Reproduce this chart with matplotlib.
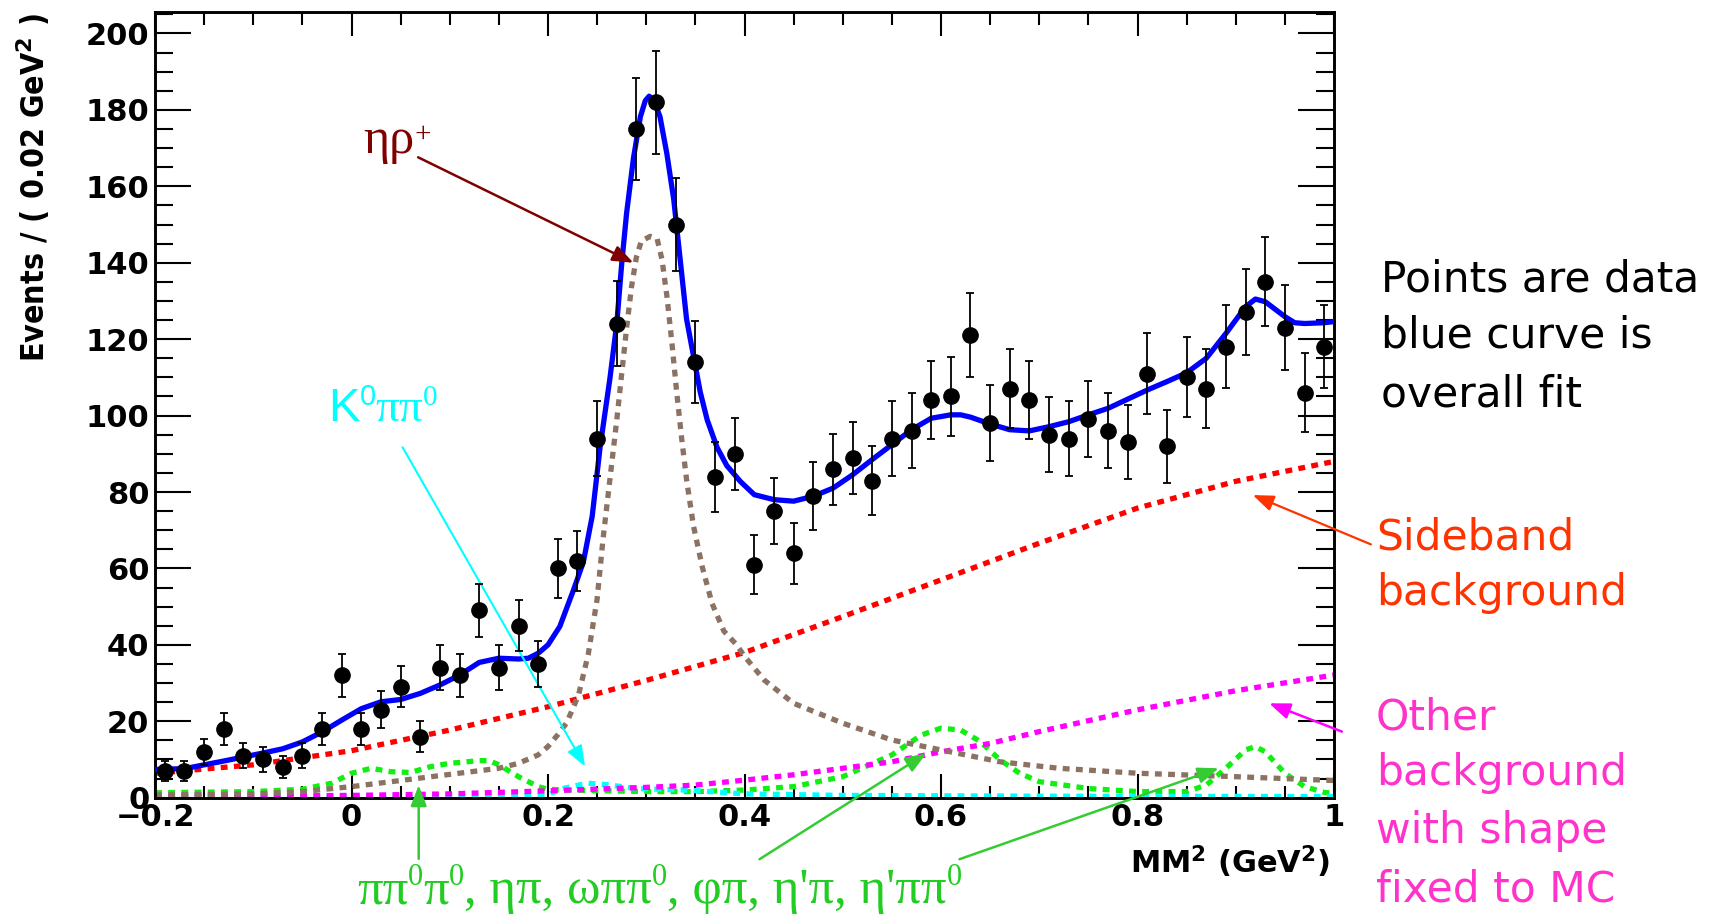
import numpy as np
import matplotlib
matplotlib.use("Agg")
import matplotlib.pyplot as plt
from matplotlib.ticker import FixedLocator, FixedFormatter, MultipleLocator

# ---- measured spectrum: events per 0.02 GeV^2 bin ----
bin_centers = [-0.19, -0.17, -0.15, -0.13, -0.11, -0.09, -0.07, -0.05, -0.03, -0.01,
               0.01, 0.03, 0.05, 0.07, 0.09, 0.11, 0.13, 0.15, 0.17, 0.19,
               0.21, 0.23, 0.25, 0.27, 0.29, 0.31, 0.33, 0.35, 0.37, 0.39,
               0.41, 0.43, 0.45, 0.47, 0.49, 0.51, 0.53, 0.55, 0.57, 0.59,
               0.61, 0.63, 0.65, 0.67, 0.69, 0.71, 0.73, 0.75, 0.77, 0.79,
               0.81, 0.83, 0.85, 0.87, 0.89, 0.91, 0.93, 0.95, 0.97, 0.99]
counts = [7, 7, 12, 18, 11, 10, 8, 11, 18, 32,
          18, 23, 29, 16, 34, 32, 49, 34, 45, 35,
          60, 62, 94, 124, 175, 182, 150, 114, 84, 90,
          61, 75, 64, 79, 86, 89, 83, 94, 96, 104,
          105, 121, 98, 107, 104, 95, 94, 99, 96, 93,
          111, 92, 110, 107, 118, 127, 135, 123, 106, 118]

# ---- fit curves sampled along MM^2 ----
fit_x = [-0.20, -0.17, -0.13, -0.09, -0.07, -0.05, -0.03, -0.01,
         0.01, 0.03, 0.05, 0.07, 0.09, 0.11, 0.13, 0.15, 0.17, 0.18, 0.19, 0.20,
         0.212, 0.226, 0.236, 0.245, 0.253, 0.263, 0.270, 0.275, 0.280, 0.287,
         0.294, 0.299, 0.303, 0.308, 0.314, 0.321, 0.328, 0.335, 0.341, 0.348,
         0.355, 0.362, 0.372, 0.382, 0.396,
         0.41, 0.43, 0.45, 0.47, 0.49, 0.51, 0.53, 0.55, 0.57, 0.59,
         0.61, 0.62, 0.63, 0.65, 0.67, 0.69, 0.71, 0.73, 0.75, 0.77, 0.79,
         0.81, 0.83, 0.85, 0.87, 0.89, 0.91, 0.92, 0.93, 0.95, 0.96, 0.97, 0.99, 1.00]
fit_y = [7.4, 7.6, 9.6, 11.7, 12.8, 14.6, 17.2, 20.3,
         23.3, 25.1, 25.7, 27.3, 29.5, 32.1, 35.4, 36.5, 36.3, 36.5, 37.8, 40.0,
         44.8, 54.4, 61.7, 73.7, 91.7, 109.7, 124.1, 139.7, 153.0, 167.4,
         178.2, 182.4, 183.6, 182.4, 178.2, 168.5, 156.5, 139.7, 125.3, 115.7,
         106.1, 98.9, 91.7, 86.9, 82.7,
         79.3, 78.0, 77.6, 78.9, 81.0, 84.5, 88.5, 92.4, 96.3, 99.3,
         100.2, 100.2, 99.6, 97.8, 96.3, 96.0, 97.1, 98.4, 100.2, 101.9, 104.3,
         106.7, 108.9, 111.2, 115.0, 121.5, 128.5, 130.5, 129.8, 125.9, 124.3, 124.1, 124.3, 124.6]

etarho_x = [-0.20, -0.10, -0.05, 0.00, 0.05, 0.10, 0.15, 0.17, 0.19, 0.20,
            0.21, 0.219, 0.231, 0.241, 0.250, 0.256, 0.263, 0.270, 0.275, 0.280,
            0.285, 0.290, 0.295, 0.304, 0.311, 0.316, 0.321, 0.326, 0.331, 0.336,
            0.341, 0.348, 0.357, 0.367, 0.379, 0.392, 0.40, 0.42, 0.45, 0.50,
            0.55, 0.60, 0.66, 0.72, 0.80, 0.90, 1.00]
etarho_y = [0.7, 1.0, 1.6, 2.9, 4.5, 6.1, 7.7, 9.0, 11.2, 13.4,
            16.5, 19.6, 26.8, 37.6, 52.0, 67.7, 83.3, 98.9, 110.9, 122.9,
            133.7, 141.5, 145.7, 146.9, 146.3, 140.9, 131.3, 119.3, 106.1, 94.1,
            83.3, 71.2, 60.4, 50.8, 43.6, 40.0, 37.0, 30.8, 24.7, 19.5,
            15.1, 12.5, 9.4, 7.7, 6.4, 5.5, 4.5]

sideband_x = [-0.2, -0.1, 0.0, 0.1, 0.2, 0.3, 0.4, 0.5, 0.6, 0.7, 0.8, 0.9, 1.0]
sideband_y = [6.4, 8.6, 12.3, 17.7, 23.8, 30.7, 38.0, 47.4, 57.0, 66.6, 75.8, 82.8, 88.0]

other_x = [-0.2, 0.0, 0.1, 0.2, 0.3, 0.35, 0.4, 0.45, 0.5, 0.55, 0.6, 0.65, 0.7, 0.8, 0.9, 1.0]
other_y = [0.3, 0.6, 1.0, 1.8, 2.7, 3.3, 4.6, 6.0, 7.7, 9.4, 12.0, 14.2, 17.3, 23.0, 28.0, 32.1]

k0pipi_x = [-0.2, 0.15, 0.20, 0.215, 0.24, 0.26, 0.29, 0.34, 0.40, 0.50, 0.70, 1.0]
k0pipi_y = [0.2, 0.2, 0.8, 2.4, 3.8, 3.4, 2.4, 2.0, 1.0, 0.6, 0.4, 0.3]

peaking_x = [-0.2, -0.1, -0.05, -0.02, 0.0, 0.02, 0.04, 0.06, 0.08, 0.10,
             0.13, 0.14, 0.15, 0.17, 0.19, 0.20, 0.22, 0.30, 0.35, 0.40,
             0.45, 0.50, 0.55, 0.58, 0.60, 0.62, 0.64, 0.66, 0.68, 0.70,
             0.75, 0.80, 0.85, 0.87, 0.89, 0.91, 0.92, 0.93, 0.95, 0.97,
             0.99, 1.0]
peaking_y = [1.3, 1.6, 2.2, 3.8, 6.4, 7.7, 6.8, 6.6, 8.1, 9.0,
             9.7, 9.7, 8.6, 5.5, 2.9, 2.2, 2.0, 1.6, 1.6, 2.0,
             2.9, 5.5, 11.2, 16.4, 18.2, 17.7, 14.7, 9.9, 6.4, 4.2,
             2.4, 1.6, 1.6, 3.3, 7.7, 12.5, 13.4, 12.0, 6.4, 2.9,
             1.4, 1.1]

x_ticks = [-0.2, 0.0, 0.2, 0.4, 0.6, 0.8, 1.0]
x_tick_labels = ["\u22120.2", "0", "0.2", "0.4", "0.6", "0.8", "1"]
y_ticks = [0, 20, 40, 60, 80, 100, 120, 140, 160, 180, 200]
y_tick_labels = ["0", "20", "40", "60", "80", "100", "120", "140", "160", "180", "200"]

SERIF = ["Liberation Serif", "DejaVu Serif"]
SANS = ["Liberation Sans", "DejaVu Sans"]

fig = plt.figure(figsize=(17.16, 9.18), dpi=100)
ax = fig.add_axes([0.09033, 0.13105, 0.68706, 0.8562])
ax.set_xlim(-0.2, 1.0)
ax.set_ylim(0, 205.7)

dots = (0, (1.3, 1.2))
curve_kw = dict(lw=3.8, ls=dots, dash_capstyle="butt")
ax.plot(peaking_x, peaking_y, color="#11EE11", zorder=2, **curve_kw)
ax.plot(k0pipi_x, k0pipi_y, color="#00FFFF", zorder=2, **curve_kw)
ax.plot(other_x, other_y, color="#FF00FF", zorder=2, **curve_kw)
ax.plot(sideband_x, sideband_y, color="#FF0000", zorder=2, **curve_kw)
ax.plot(etarho_x, etarho_y, color="#8B7262", zorder=2, **curve_kw)
ax.plot(fit_x, fit_y, color="#0000FF", lw=3.8, solid_joinstyle="round", zorder=3)

ax.errorbar(bin_centers, counts, yerr=np.sqrt(counts), fmt="o", color="black",
            ms=11, elinewidth=1.3, capsize=2.8, capthick=1.3, zorder=5)

# axis frame and ticks
for sp in ax.spines.values():
    sp.set_linewidth(2.1)
ax.xaxis.set_major_locator(FixedLocator(x_ticks))
ax.xaxis.set_major_formatter(FixedFormatter(x_tick_labels))
ax.xaxis.set_minor_locator(MultipleLocator(0.05))
ax.yaxis.set_major_locator(FixedLocator(y_ticks))
ax.yaxis.set_major_formatter(FixedFormatter(y_tick_labels))
ax.yaxis.set_minor_locator(MultipleLocator(5))
ax.tick_params(which="both", direction="in", top=True, right=True, width=1.5,
               labelsize=22)
ax.tick_params(axis="y", which="major", length=26, pad=4)
ax.tick_params(axis="y", which="minor", length=13)
ax.tick_params(axis="x", which="major", length=17, pad=4)
ax.tick_params(axis="x", which="minor", length=9)
for lab in ax.get_xticklabels() + ax.get_yticklabels():
    lab.set_fontweight("bold")
    lab.set_family("DejaVu Sans")

fig.text(33 / 1716, 1 - 13 / 918, r"Events / ( 0.02 GeV$^{\mathbf{2}}$ )",
         rotation=90, ha="center", va="top", fontsize=23, fontweight="bold",
         fontstretch="condensed", family="DejaVu Sans")
fig.text(1330 / 1716, 1 - 862 / 918, r"MM$^{\mathbf{2}}$ (GeV$^{\mathbf{2}}$)",
         ha="right", va="center", fontsize=22, fontweight="bold", family="DejaVu Sans")


def rich_text(x, y, pieces, color, coords="figure pixels"):
    """Lay out text pieces one after another on a shared baseline."""
    prev = None
    for text, size, family, rise in pieces:
        if prev is None:
            xy, xyc = (x, y), coords
        else:
            xy, xyc = (1, y), (prev, coords)
        prev = ax.annotate(text, xy=xy, xycoords=xyc, xytext=(0, rise),
                           textcoords="offset points", fontsize=size, family=family,
                           color=color, ha="left", va="baseline",
                           annotation_clip=False)
    return prev


def arrow(start, tip, color, lw=1.7):
    ax.annotate("", xy=tip, xytext=start, xycoords="data", textcoords="data",
                annotation_clip=False,
                arrowprops=dict(arrowstyle="-|>,head_length=0.7,head_width=0.27",
                                mutation_scale=18, color=color, lw=lw,
                                shrinkA=0, shrinkB=0))


# eta rho+ signal label
rich_text(363, 918 - 153, [("ηρ", 36, SERIF, 0), ("+", 21, SERIF, 8)], "#800000")
arrow((0.0678, 167.6), (0.2869, 140.0), "#800000", lw=1.8)

# K0 pi pi0 label
rich_text(328, 918 - 421, [("K", 34, SANS, 0), ("0", 21, SANS, 11.5),
                           ("ππ", 34, SERIF, 0), ("0", 21, SERIF, 11.5)], "#00FFFF")
arrow((0.052, 91.7), (0.2377, 8.2), "#00FFFF", lw=1.5)

# peaking backgrounds label below the axis
sup = ("0", 22, SERIF, 13)
green_pieces = [("ππ", 36.5, SERIF, 0), sup, ("π", 36.5, SERIF, 0), sup,
                (", ηπ, ωππ", 36.5, SERIF, 0), sup,
                (", φπ, η'π, η'ππ", 36.5, SERIF, 0), sup]
rich_text(357, 918 - 903, green_pieces, "#22CC22")
arrow((0.0684, -16.0), (0.0684, 3.3), "#33CC33", lw=1.8)
arrow((0.4153, -16.1), (0.585, 11.6), "#33CC33", lw=1.8)
arrow((0.6188, -16.1), (0.8827, 7.7), "#33CC33", lw=1.8)

# side annotations
arrow((1.0375, 66.3), (0.9174, 79.2), "#FF3300", lw=1.6)
arrow((1.008, 17.3), (0.934, 24.7), "#FF00FF", lw=1.8)

side_font = dict(fontsize=30.5, family="DejaVu Sans", ha="left", va="baseline")
for text, base in [("Points are data", 292), ("blue curve is", 348), ("overall fit", 406)]:
    fig.text(1381 / 1716, 1 - base / 918, text, color="black", **side_font)
for text, base in [("Sideband", 549), ("background", 605)]:
    fig.text(1376 / 1716, 1 - base / 918, text, color="#FF3300", **side_font)
for text, base in [("Other", 729), ("background", 785), ("with shape", 843),
                   ("fixed to MC", 901)]:
    fig.text(1376 / 1716, 1 - base / 918, text, color="#FF33CC", **side_font)

fig.savefig("out.png", dpi=100)
